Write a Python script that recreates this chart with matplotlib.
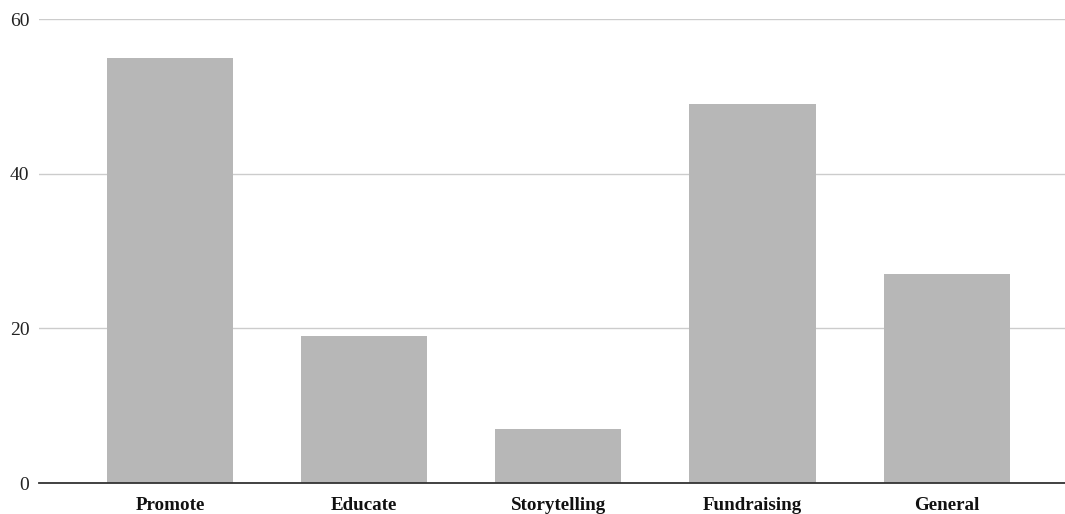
import matplotlib.pyplot as plt

categories = ["Promote", "Educate", "Storytelling", "Fundraising", "General"]
values = [55, 19, 7, 49, 27]
y_ticks = [0, 20, 40, 60]

plt.rcParams['font.family'] = ['Liberation Serif', 'DejaVu Serif']

fig = plt.figure(figsize=(10.65, 5.14), dpi=100)
ax = fig.add_axes([39 / 1065, 31 / 514, 1026 / 1065, 464 / 514])

x = list(range(len(categories)))
ax.bar(x, values, width=0.65, color='#b7b7b7', zorder=2)

ax.set_xlim(-0.676, 4.61)
ax.set_ylim(0, 60)
ax.set_yticks(y_ticks)
ax.set_yticklabels([str(t) for t in y_ticks], fontsize=14, color='#222222')
ax.set_xticks(x)
ax.set_xticklabels(categories, fontsize=13.7, fontweight='bold', color='#111111')
ax.tick_params(axis='y', length=0, pad=7)
ax.tick_params(axis='x', length=0, pad=10)

ax.grid(axis='y', color='#cccccc', linewidth=1, zorder=0)
for side in ['top', 'right', 'left']:
    ax.spines[side].set_visible(False)
ax.spines['bottom'].set_color('#333333')
ax.spines['bottom'].set_linewidth(1.3)
ax.spines['bottom'].set_zorder(3)

plt.savefig('out.png', dpi=100)
